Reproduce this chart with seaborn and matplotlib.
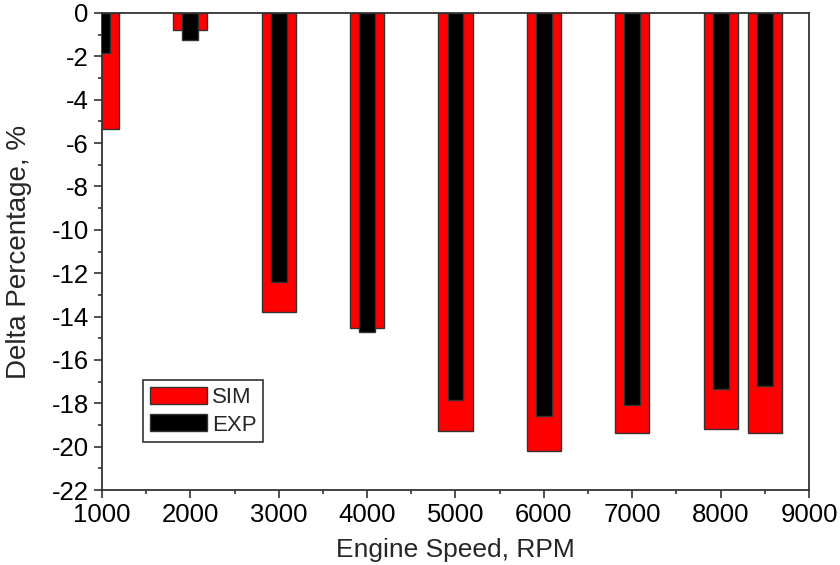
import matplotlib
matplotlib.use("Agg")
import matplotlib.pyplot as plt
import seaborn as sns
from matplotlib.ticker import MultipleLocator
from matplotlib.patches import Patch

# data
rpm = [1000, 2000, 3000, 4000, 5000, 6000, 7000, 8000, 8500]
sim = [-5.35, -0.78, -13.8, -14.55, -19.3, -20.2, -19.38, -19.2, -19.35]
exp = [-1.86, -1.25, -12.42, -14.72, -17.85, -18.6, -18.1, -17.35, -17.18]

sns.set_style("ticks")
plt.rcParams['font.family'] = ['Liberation Sans', 'DejaVu Sans']
plt.rcParams['axes.unicode_minus'] = False

fig = plt.figure(figsize=(8.4, 5.65), dpi=100)
ax = fig.add_axes([0.1214, 0.1327, 0.8417, 0.8443])

sns.barplot(x=rpm, y=sim, native_scale=True, width=0.77, color="#ff0000",
            edgecolor="#333333", linewidth=1, saturation=1, ax=ax, zorder=2)
sns.barplot(x=rpm, y=exp, native_scale=True, width=0.36, color="#000000",
            edgecolor="#333333", linewidth=1, saturation=1, ax=ax, zorder=3)

ax.set_xlim(1000, 9000)
ax.set_ylim(-22, 0)
ax.xaxis.set_major_locator(MultipleLocator(1000))
ax.xaxis.set_minor_locator(MultipleLocator(500))
ax.yaxis.set_major_locator(MultipleLocator(2))
ax.yaxis.set_minor_locator(MultipleLocator(1))
ax.tick_params(which="major", length=6, width=1.2, labelsize=18.5, colors="#333333",
               labelcolor="black", direction="out")
ax.tick_params(which="minor", length=3, width=1.2, colors="#333333", direction="out")

for s in ax.spines.values():
    s.set_visible(True)
    s.set_color("#333333")
    s.set_linewidth(1.3)

ax.set_xlabel("Engine Speed, RPM", fontsize=19, labelpad=8)
ax.set_ylabel("Delta Percentage, %", fontsize=20, labelpad=14)

handles = [Patch(facecolor="#ff0000", edgecolor="#333333", label="SIM"),
           Patch(facecolor="#000000", edgecolor="#333333", label="EXP")]
leg = ax.legend(handles=handles, loc="lower left", bbox_to_anchor=(0.058, 0.1),
                fontsize=16, fancybox=False, framealpha=1, edgecolor="#333333",
                handlelength=2.6, handleheight=0.8, handletextpad=0.2,
                labelspacing=0.3, borderpad=0.3, borderaxespad=0)
leg.get_frame().set_linewidth(1.2)

fig.savefig("out.png", dpi=100)
